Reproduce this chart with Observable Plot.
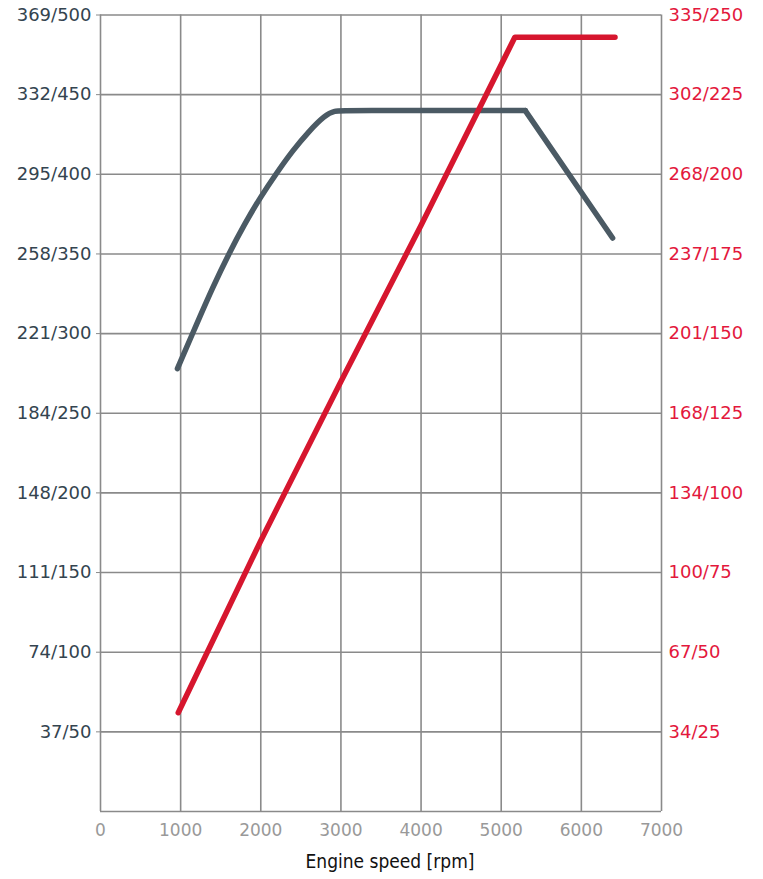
<!DOCTYPE html>
<html>
<head>
<meta charset="utf-8">
<script src="https://cdn.jsdelivr.net/npm/d3@7"></script>
<script src="https://cdn.jsdelivr.net/npm/@observablehq/plot@0.6"></script>
<style>
  html, body { margin: 0; padding: 0; background: #fff; }
  #chart { width: 763px; height: 879px; }
</style>
</head>
<body>
<div id="chart"></div>
<script>
// Torque curve (rpm, Nm): rising + plateau part, then linear fall
const torqueRiseRpm = [960, 1200, 1400, 1600, 1800, 2000, 2200, 2400, 2600, 2800, 2920, 3050, 5200, 5300];
const torqueRiseNm  = [278, 306, 329, 350, 369, 386, 401, 415, 427, 437, 440, 440, 440, 440];
const torqueFallRpm = [5300, 6390];
const torqueFallNm  = [440, 360];
// Power curve (rpm, kW)
const powerRpm = [970, 2000, 3000, 4000, 5170, 6420];
const powerKw  = [31, 85, 135, 184, 243, 243];
// Axis ticks
const xTicks = [0, 1000, 2000, 3000, 4000, 5000, 6000, 7000];
const nmTicks = [50, 100, 150, 200, 250, 300, 350, 400, 450, 500];
const lbftLabels = ["37", "74", "111", "148", "184", "221", "258", "295", "332", "369"];
const kwTicks = [25, 50, 75, 100, 125, 150, 175, 200, 225, 250];
const hpLabels = ["34", "67", "100", "134", "168", "201", "237", "268", "302", "335"];
const xLabel = "Engine speed [rpm]";

const torqueRise = torqueRiseRpm.map((r, i) => ({rpm: r, v: torqueRiseNm[i]}));
const torqueFall = torqueFallRpm.map((r, i) => ({rpm: r, v: torqueFallNm[i]}));
const power = powerRpm.map((r, i) => ({rpm: r, v: powerKw[i] * 2})); // kW drawn on Nm scale (250 kW = 500 Nm)
const leftMap = new Map(nmTicks.map((t, i) => [t, `${lbftLabels[i]}/${t}`]));
const rightMap = new Map(kwTicks.map((t, i) => [t * 2, `${hpLabels[i]}/${t}`]));

const chart = Plot.plot({
  width: 763,
  height: 879,
  marginLeft: 100,
  marginRight: 102,
  marginTop: 14.5,
  marginBottom: 68,
  style: {fontFamily: "DejaVu Sans", background: "#fff"},
  x: {domain: [0, 7000]},
  y: {domain: [0, 500]},
  marks: [
    Plot.gridX(xTicks, {stroke: "#8a8a8a", strokeOpacity: 1, strokeWidth: 1.6}),
    Plot.gridY([0, ...nmTicks], {stroke: "#8a8a8a", strokeOpacity: 1, strokeWidth: 1.6}),
    Plot.axisY(nmTicks, {
      anchor: "left", tickSize: 4, tickPadding: 5, stroke: "#8a8a8a",
      tickFormat: d => leftMap.get(d), fontSize: 18, fill: "#34444f", label: null
    }),
    Plot.axisY(kwTicks.map(k => k * 2), {
      anchor: "right", tickSize: 0, tickPadding: 7,
      tickFormat: d => rightMap.get(d), fontSize: 18, fill: "#e3183c", label: null
    }),
    Plot.axisX(xTicks, {
      anchor: "bottom", tickSize: 0, tickPadding: 12, fontSize: 17, fill: "#999",
      tickFormat: d => String(d),
      label: xLabel, labelAnchor: "center", labelOffset: 56, labelArrow: "none"
    }),
    Plot.line(torqueRise, {x: "rpm", y: "v", stroke: "#4b5a64", strokeWidth: 5.5, curve: "basis", strokeLinejoin: "round"}),
    Plot.line(torqueFall, {x: "rpm", y: "v", stroke: "#4b5a64", strokeWidth: 5.5, strokeLinecap: "round"}),
    Plot.line(power, {x: "rpm", y: "v", stroke: "#d6162e", strokeWidth: 5.5, strokeLinejoin: "round"})
  ]
});
document.getElementById("chart").appendChild(chart);
// style the axis label like the reference (black, narrow)
d3.select(chart).selectAll("g[aria-label='x-axis label'] text")
  .attr("fill", "#111").attr("font-size", 19).attr("dx", 9)
  .attr("font-family", "Liberation Sans Narrow, DejaVu Sans Condensed");
</script>
</body>
</html>
